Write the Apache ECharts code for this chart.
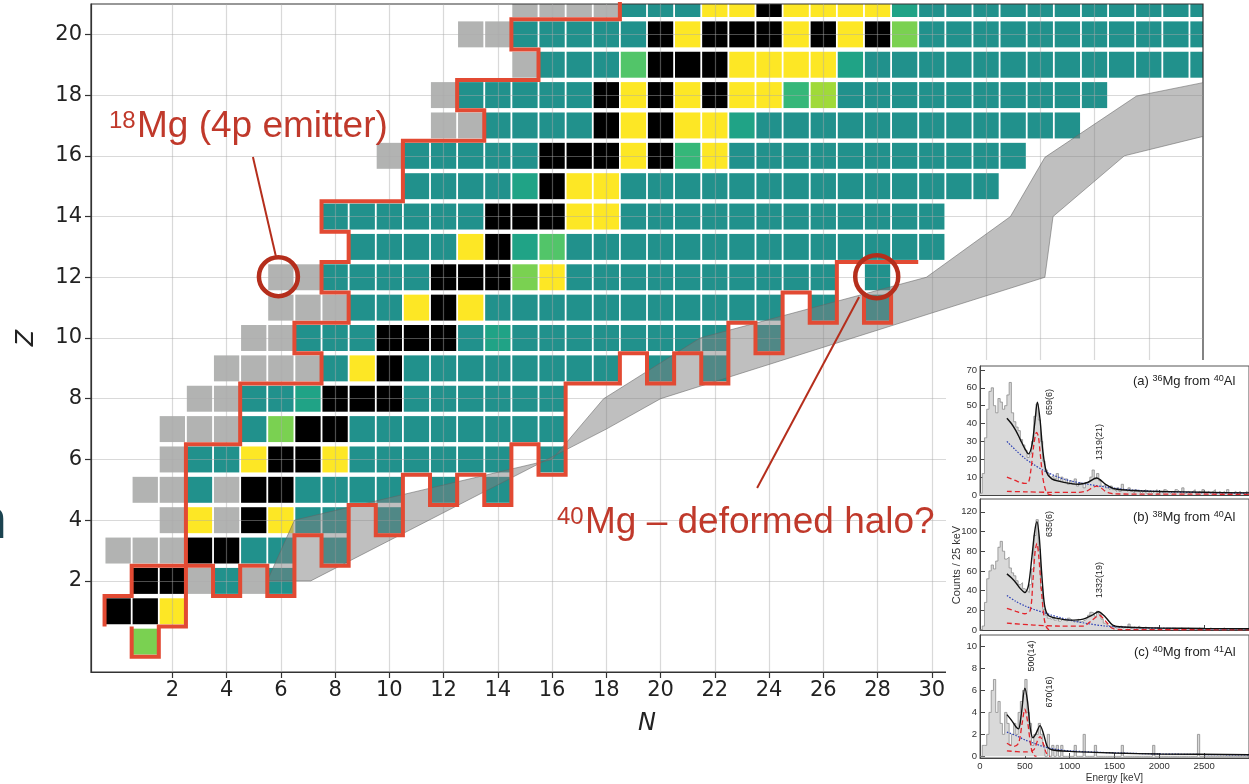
<!DOCTYPE html>
<html><head><meta charset="utf-8">
<script src="https://cdn.jsdelivr.net/npm/echarts@6/dist/echarts.min.js"></script>
<style>html,body{margin:0;padding:0;background:#fff}#c{width:1249px;height:784px}</style>
</head><body><div id="c"></div><script>
// ---------------- main chart data ----------------
const xTickValues = [2,4,6,8,10,12,14,16,18,20,22,24,26,28,30,32,34,36,38];
const xLabelValues = [2,4,6,8,10,12,14,16,18,20,22,24,26,28,30];
const yTickValues = [2,4,6,8,10,12,14,16,18,20];

// rows: [Z, first N, codes]; '.' = no nucleus
const chartRows = [
  [0, 1, 'l'],
  [1, 0, 'kky'],
  [2, 1, 'kkgtgt'],
  [3, 0, 'gggkktt.t'],
  [4, 2, 'gygkytt.t'],
  [5, 1, 'ggtgkktttt.t.t'],
  [6, 2, 'gttykkytttttt.t'],
  [7, 2, 'gggtlkktttttttt'],
  [8, 3, 'ggttakkktttttt'],
  [9, 4, 'ggggtyktttttttt.t.t'],
  [10, 5, 'ggtttkkktatttttttt.t'],
  [11, 6, 'gggttykyttttttttttt.t.t'],
  [12, 6, 'ggttttkkklytttttttttt.t'],
  [13, 9, 'ttttykamtttttttttttttt'],
  [14, 8, 'ttttttkkkyytttttttttttt'],
  [15, 11, 'ttttakyytttttttttttttt'],
  [16, 10, 'gtttttkkkyksyttttttttttt'],
  [17, 12, 'ggttttkykyyatttttttttttt'],
  [18, 12, 'gtttttkykykyysetttttttttt'],
  [19, 15, 'gtttmkkkyyyyatttttttttttttt'],
  [20, 13, 'ggtttttkykkkykykltttttttttttt'],
  [21, 15, 'ggggtttyykyyyyattttttttttt']
];
const cellColors = {g:'#b2b3b2', t:'#21918c', k:'#000000', y:'#fde725', a:'#20a386',
                    s:'#35b779', m:'#52c569', l:'#7ad151', e:'#a0da39'};

const dripLineProton = [[18.5,21.5],[18.5,20.5],[14.5,20.5],[14.5,19.5],[15.5,19.5],[15.5,18.5],
  [12.5,18.5],[12.5,17.5],[13.5,17.5],[13.5,16.5],[10.5,16.5],[10.5,14.5],[7.5,14.5],[7.5,13.5],
  [8.5,13.5],[8.5,12.5],[7.5,12.5],[7.5,11.5],[8.5,11.5],[8.5,10.5],[6.5,10.5],[6.5,9.5],[7.5,9.5],
  [7.5,8.5],[4.5,8.5],[4.5,6.5],[2.5,6.5],[2.5,0.5],[1.5,0.5],[1.5,-0.5],[0.5,-0.5],[0.5,0.5]];
const dripLineNeutron = [[-0.5,0.5],[-0.5,1.5],[0.5,1.5],[0.5,2.5],[3.5,2.5],[3.5,1.5],[4.5,1.5],
  [4.5,2.5],[5.5,2.5],[5.5,1.5],[6.5,1.5],[6.5,3.5],[7.5,3.5],[7.5,2.5],[8.5,2.5],[8.5,4.5],
  [9.5,4.5],[9.5,3.5],[10.5,3.5],[10.5,5.5],[11.5,5.5],[11.5,4.5],[12.5,4.5],[12.5,5.5],[13.5,5.5],
  [13.5,4.5],[14.5,4.5],[14.5,6.5],[15.5,6.5],[15.5,5.5],[16.5,5.5],[16.5,8.5],[18.5,8.5],
  [18.5,9.5],[19.5,9.5],[19.5,8.5],[20.5,8.5],[20.5,9.5],[21.5,9.5],[21.5,8.5],[22.5,8.5],
  [22.5,10.5],[23.5,10.5],[23.5,9.5],[24.5,9.5],[24.5,11.5],[25.5,11.5],[25.5,10.5],[26.5,10.5],
  [26.5,12.5],[29.5,12.5]];
const dripLineNa39 = [[27.5,11.5],[27.5,10.5],[28.5,10.5],[28.5,11.5]];

const bandUpper = [[5.5,2.0],[6.5,4.0],[16.0,6.0],[17.9,8.0],[21.46,10.0],[29.8,12.0],[32.9,14.0],
  [34.17,15.95],[37.55,17.97],[40.5,18.5]];
const bandLower = [[40.5,16.75],[37.1,16.0],[34.47,14.0],[34.17,12.0],[20.0,8.0],[18.0,7.0],[7.1,2.0]];

const circleMg18 = [[5.91,12.02]];
const circleMg40 = [[27.97,12.02]];
const pointerMg18 = [[4.97,15.96],[5.84,12.6]];
const pointerMg40 = [[27.32,11.35],[23.56,5.06]];

// ---------------- inset data (25 keV bins) ----------------
const binWidth = 25;
const histA = [1,12,32,48, 58,60,50,46, 54,52,48,50, 56,63,46,41, 38,36,31,28, 25,21,23,30,
  44,51,42,30, 19,14,12,10, 11,9,12,8, 10,7,9,6, 8,6,9,5, 7,6,4,7, 8,10,14,9, 12,8,5,6,
  4,3,5,3, 2,4,2,6, 3,2,4,2, 1,3,2,1, 2,3,1,2, 1,2,3,1, 2,1,3,2, 1,2,1,3, 2,1,4,1, 2,1,2,3,
  1,2,1,3, 1,2,1,2, 3,1,2,1, 2,1,3,1, 1,2,1,2, 1,1,2,1];
const histB = [0,4,28,52, 60,66,62,70, 84,90,80,72, 74,63,58,55, 50,46,48,42, 40,38,46,62,
  96,112,82,42, 21,15,12,11, 13,10,12,9, 11,10,9,12, 10,8,9,11, 8,9,10,12, 15,18,17,14,
  19,16,11,7, 5,4,4,3, 2,3,4,2, 3,2,6,2, 3,2,4,2, 2,3,2,1, 2,1,2,1, 1,2,1,2, 1,1,2,1,
  1,2,1,1, 2,1,1,1, 1,2,1,1, 1,1,2,1, 1,1,1,1, 2,1,1,1, 1,1,1,1, 1,1,1,1];
const histC = [0,1,1,2, 4,6,7,4, 5,3,2,4, 3,1,2,3, 2,4,5,6, 7,4,3,1, 2,2,3,2, 1,0,2,0,
  1,0,1,0, 1,0,0,0, 0,0,1,0, 0,0,2,0, 0,0,0,1, 0,0,0,0, 0,0,0,0, 0,0,0,1, 0,0,0,0, 0,0,0,0,
  0,0,0,0, 0,1,0,0, 0,0,0,0, 0,0,0,0, 0,0,0,0, 0,0,0,0, 0,2,0,0, 0,0,0,0, 0,0,0,0, 0,0,0,0,
  0,0,0,0, 0,0,0,0];

const fitA = [[300,43],[350,40],[400,36],[450,31],[500,26],[540,23],[580,28],[610,40],[640,52],
  [670,42],[700,25],[740,13],[800,9],[900,7.5],[1000,6.5],[1100,6],[1200,7],[1300,9.5],[1400,6],
  [1500,3.5],[1700,2.5],[2000,2],[2500,1.5],[3000,1.2]];
const bgA = [[300,30],[400,25],[500,20.5],[600,17],[700,14],[800,11.5],[900,9.5],[1000,8],
  [1200,6],[1400,4.5],[1600,3.2],[1800,2.5],[2000,2],[2500,1.3],[3000,1]];
const peakA1 = [[300,10],[350,9],[400,8],[450,7],[500,6.5],[540,7],[570,15],[600,28],[630,35],
  [650,33],[670,24],[700,10],[730,3],[760,0.5],[800,0]];
const peakA2 = [[300,2],[500,1.8],[800,1.5],[1100,1.5],[1200,2.5],[1250,4],[1300,5],[1350,4],
  [1400,2],[1450,1],[1500,0.6],[2000,0.5],[3000,0.4]];

const fitB = [[300,57],[350,53],[400,48],[450,42],[500,38],[540,45],[580,75],[610,100],[635,110],
  [660,95],[690,55],[720,25],[760,15],[850,12],[1000,10],[1150,11],[1250,15],[1320,18.5],
  [1400,13],[1480,5],[1600,3],[2000,2],[2500,1.5],[3000,1.2]];
const bgB = [[300,35],[400,29],[500,24.5],[600,21],[700,18],[800,15],[900,12.5],[1000,10],
  [1200,6.5],[1400,4],[1600,2.8],[2000,1.8],[2500,1.2],[3000,1]];
const peakB1 = [[300,22],[400,19],[500,16.5],[560,20],[590,50],[615,80],[635,88],[655,75],
  [685,40],[715,12],[740,3],[770,0]];
const peakB2 = [[300,7],[600,5],[900,4],[1150,4],[1250,10],[1330,15],[1400,9],[1470,2],
  [1550,0.5],[2000,0.3],[3000,0.2]];

const fitC = [[300,3.8],[350,3.3],[400,2.7],[430,2.5],[460,3.8],[500,6.2],[530,5],[560,2.6],
  [590,1.7],[620,2],[670,2.8],[710,2],[750,0.9],[800,0.6],[1000,0.45],[1500,0.3],[2000,0.22],
  [3000,0.15]];
const bgC = [[300,2.2],[400,1.9],[500,1.5],[600,1.2],[700,0.9],[800,0.7],[1000,0.5],[1500,0.32],
  [2000,0.22],[3000,0.12]];
const peakC1 = [[300,1.2],[380,0.9],[430,1.2],[470,3],[500,4.3],[530,3.2],[570,0.8],[600,0.1],[630,0]];
const peakC2 = [[300,0.5],[500,0.4],[600,0.6],[640,1.4],[670,1.8],[700,1.3],[740,0.3],[780,0]];

const insetXLabels = [0,500,1000,1500,2000,2500];
const insetYLabelsA = [0,10,20,30,40,50,60,70];
const insetYLabelsB = [0,20,40,60,80,100,120];
const insetYLabelsC = [0,2,4,6,8,10];

// ---------------- build ----------------
const cells = [];
chartRows.forEach(([z, n0, codes]) => {
  for (let i = 0; i < codes.length; i++) {
    if (codes[i] !== '.') cells.push([n0 + i, z, codes[i]]);
  }
});
const histData = h => {
  const d = h.map((v, i) => [i * binWidth, v]);
  d.push([h.length * binWidth, h[h.length - 1]]);
  return d;
};

const RED = '#e24a33';
const ANN = '#b52e1c';
const TXT = '#c0392b';
const mainFont = 'DejaVu Sans';
const insetFont = 'Liberation Sans';

const chart = echarts.init(document.getElementById('c'), null, {renderer: 'canvas'});

function insetX(idx, showLabels) {
  return {
    gridIndex: idx, type: 'value', min: 0, max: 3000, z: 21,
    axisLine: {show: true, onZero: false, lineStyle: {color: '#444', width: 1}},
    axisTick: {show: true, inside: true, length: 5, customValues: insetXLabels, lineStyle: {color: '#444'}},
    axisLabel: {show: showLabels, customValues: insetXLabels, fontSize: 9.5, color: '#333', margin: 3,
      fontFamily: insetFont, formatter: v => String(v)},
    splitLine: {show: false},
    name: showLabels ? 'Energy [keV]' : '', nameLocation: 'middle', nameGap: 15,
    nameTextStyle: {fontSize: 10, color: '#333', fontFamily: insetFont}
  };
}
function insetY(idx, min, max, labels) {
  return {
    gridIndex: idx, type: 'value', min: min, max: max, z: 21,
    axisLine: {show: true, onZero: false, lineStyle: {color: '#444', width: 1}},
    axisTick: {show: true, inside: true, length: 5, customValues: labels, lineStyle: {color: '#444'}},
    axisLabel: {customValues: labels, fontSize: 9.5, color: '#333', margin: 3, fontFamily: insetFont,
      formatter: v => String(v)},
    splitLine: {show: false}
  };
}
function insetSeries(idx, hist, fit, bg, p1, p2) {
  const common = {xAxisIndex: idx, yAxisIndex: idx, z: 22, showSymbol: false, symbol: 'none', silent: true, animation: false};
  return [
    Object.assign({type: 'line', step: 'end', data: histData(hist),
      lineStyle: {color: '#8c8c8c', width: 0.8}, areaStyle: {color: '#d9d9d9', opacity: 1}}, common),
    Object.assign({type: 'line', data: bg, smooth: 0.3,
      lineStyle: {color: '#2b3fb5', width: 1.2, type: [1.5, 1.5]}}, common),
    Object.assign({type: 'line', data: p1, smooth: 0.3,
      lineStyle: {color: '#e3242b', width: 1.3, type: [5, 3]}}, common),
    Object.assign({type: 'line', data: p2, smooth: 0.3,
      lineStyle: {color: '#e3242b', width: 1.3, type: [5, 3]}}, common),
    Object.assign({type: 'line', data: fit, smooth: 0.3,
      lineStyle: {color: '#111', width: 1.4}}, common)
  ];
}

const gridStyle = {show: true, borderColor: '#555', borderWidth: 1, backgroundColor: '#fff', z: 21};

const option = {
  animation: false,
  backgroundColor: '#fff',
  grid: [
    {left: 91, top: 4, width: 1112, height: 668, show: true, borderColor: '#333', borderWidth: 1.2, z: 3},
    Object.assign({left: 980, top: 366, width: 274, height: 129}, gridStyle),
    Object.assign({left: 980, top: 499, width: 274, height: 131}, gridStyle),
    Object.assign({left: 980, top: 635, width: 274, height: 125}, gridStyle)
  ],
  xAxis: [
    {
      gridIndex: 0, type: 'value', min: -1, max: 40, z: 3,
      axisLine: {show: true, onZero: false, lineStyle: {color: '#333', width: 1.2}},
      axisTick: {show: true, length: 6, customValues: xTickValues, lineStyle: {color: '#333', width: 1.2}},
      axisLabel: {customValues: xLabelValues, fontSize: 21, color: '#222', margin: 8, fontFamily: mainFont},
      splitLine: {show: true, lineStyle: {color: 'rgba(170,170,170,0.45)', width: 1.2}},
      name: 'N', nameLocation: 'middle', nameGap: 40,
      nameTextStyle: {fontSize: 24, fontStyle: 'italic', color: '#222', fontFamily: mainFont}
    },
    insetX(1, false), insetX(2, false), insetX(3, true)
  ],
  yAxis: [
    {
      gridIndex: 0, type: 'value', min: -1, max: 21, z: 3,
      axisLine: {show: true, onZero: false, lineStyle: {color: '#333', width: 1.2}},
      axisTick: {show: true, length: 6, customValues: yTickValues, lineStyle: {color: '#333', width: 1.2}},
      axisLabel: {customValues: yTickValues, fontSize: 21, color: '#222', margin: 9, fontFamily: mainFont},
      splitLine: {show: true, lineStyle: {color: 'rgba(170,170,170,0.45)', width: 1.2}},
      name: 'Z', nameLocation: 'middle', nameGap: 52, nameRotate: 90,
      nameTextStyle: {fontSize: 24, fontStyle: 'italic', color: '#222', fontFamily: mainFont}
    },
    insetY(1, 0, 72.2, insetYLabelsA), insetY(2, 0, 133, insetYLabelsB), insetY(3, -0.15, 11.05, insetYLabelsC)
  ],
  series: [
    {
      type: 'custom', xAxisIndex: 0, yAxisIndex: 0, z: 2, clip: true, silent: true,
      data: cells.map(c => [c[0], c[1]]),
      renderItem: (params, api) => {
        const p = api.coord([api.value(0), api.value(1)]);
        const s = api.size([1, 1]);
        const w = s[0] - 1.8, h = s[1] - 4.4;
        return {type: 'rect', shape: {x: p[0] - w / 2, y: p[1] - h / 2, width: w, height: h},
          style: {fill: cellColors[cells[params.dataIndex][2]]}};
      }
    },
    {
      type: 'custom', xAxisIndex: 0, yAxisIndex: 0, z: 4, clip: true, silent: true,
      data: [[0, 0]],
      renderItem: (params, api) => ({
        type: 'polygon',
        shape: {points: bandUpper.concat(bandLower).map(p => api.coord(p))},
        style: {fill: 'rgba(128,128,128,0.5)', stroke: 'rgba(100,100,100,0.55)', lineWidth: 1}
      })
    },
    {type: 'line', xAxisIndex: 0, yAxisIndex: 0, z: 5, data: dripLineProton, showSymbol: false, symbol: 'none',
      lineStyle: {color: RED, width: 4, join: 'miter'}, silent: true},
    {type: 'line', xAxisIndex: 0, yAxisIndex: 0, z: 5, data: dripLineNeutron, showSymbol: false, symbol: 'none',
      lineStyle: {color: RED, width: 4, join: 'miter'}, silent: true},
    {type: 'line', xAxisIndex: 0, yAxisIndex: 0, z: 5, data: dripLineNa39, showSymbol: false, symbol: 'none',
      lineStyle: {color: RED, width: 4, join: 'miter'}, silent: true},
    {type: 'line', xAxisIndex: 0, yAxisIndex: 0, z: 6, data: pointerMg18, showSymbol: false, symbol: 'none',
      lineStyle: {color: ANN, width: 2}, silent: true},
    {type: 'line', xAxisIndex: 0, yAxisIndex: 0, z: 6, data: pointerMg40, showSymbol: false, symbol: 'none',
      lineStyle: {color: ANN, width: 2}, silent: true},
    {type: 'scatter', xAxisIndex: 0, yAxisIndex: 0, z: 6, data: circleMg18, symbolSize: 39,
      itemStyle: {color: 'rgba(0,0,0,0)', borderColor: ANN, borderWidth: 4.5, opacity: 1}, silent: true},
    {type: 'scatter', xAxisIndex: 0, yAxisIndex: 0, z: 6, data: circleMg40, symbolSize: 43,
      itemStyle: {color: 'rgba(0,0,0,0)', borderColor: ANN, borderWidth: 4.5, opacity: 1}, silent: true}
  ].concat(
    insetSeries(1, histA, fitA, bgA, peakA1, peakA2),
    insetSeries(2, histB, fitB, bgB, peakB1, peakB2),
    insetSeries(3, histC, fitC, bgC, peakC1, peakC2)
  ),
  graphic: [
    {type: 'rect', z: 20, silent: true, shape: {x: 946, y: 360, width: 310, height: 430}, style: {fill: '#fff'}},
    {type: 'text', z: 30, x: 109, y: 121, style: {text: '18', fontSize: 24, fill: TXT, fontFamily: 'Liberation Sans', verticalAlign: 'middle'}},
    {type: 'text', z: 30, x: 137, y: 127, style: {text: 'Mg (4p emitter)', fontSize: 37, fill: TXT, fontFamily: 'Liberation Sans', verticalAlign: 'middle'}},
    {type: 'text', z: 30, x: 557, y: 517, style: {text: '40', fontSize: 24, fill: TXT, fontFamily: 'Liberation Sans', verticalAlign: 'middle'}},
    {type: 'text', z: 30, x: 585, y: 523, style: {text: 'Mg \u2013 deformed halo?', fontSize: 37, fill: TXT, fontFamily: 'Liberation Sans', verticalAlign: 'middle'}},
    {type: 'text', z: 30, x: 7, y: 523, style: {text: 'n', fontSize: 56, fill: '#1b4350', fontFamily: 'Liberation Sans', align: 'right', verticalAlign: 'middle'}},
    {type: 'text', z: 30, x: 957, y: 565, rotation: Math.PI / 2, style: {text: 'Counts / 25 keV', fontSize: 11, fill: '#333', fontFamily: insetFont, align: 'center', verticalAlign: 'middle'}},
    {type: 'text', z: 30, x: 1133, y: 381, style: {text: '(a) {s|36}Mg from {s|40}Al', fontSize: 13, fill: '#222', fontFamily: insetFont, verticalAlign: 'middle', rich: {s: {fontSize: 9, verticalAlign: 'top', fill: '#222', fontFamily: insetFont}}}},
    {type: 'text', z: 30, x: 1133, y: 517, style: {text: '(b) {s|38}Mg from {s|40}Al', fontSize: 13, fill: '#222', fontFamily: insetFont, verticalAlign: 'middle', rich: {s: {fontSize: 9, verticalAlign: 'top', fill: '#222', fontFamily: insetFont}}}},
    {type: 'text', z: 30, x: 1134, y: 652, style: {text: '(c) {s|40}Mg from {s|41}Al', fontSize: 13, fill: '#222', fontFamily: insetFont, verticalAlign: 'middle', rich: {s: {fontSize: 9, verticalAlign: 'top', fill: '#222', fontFamily: insetFont}}}},
    {type: 'text', z: 30, x: 1050, y: 402, rotation: Math.PI / 2, style: {text: '659(6)', fontSize: 9, fill: '#222', fontFamily: insetFont, align: 'center', verticalAlign: 'middle'}},
    {type: 'text', z: 30, x: 1100, y: 442, rotation: Math.PI / 2, style: {text: '1319(21)', fontSize: 9, fill: '#222', fontFamily: insetFont, align: 'center', verticalAlign: 'middle'}},
    {type: 'text', z: 30, x: 1050, y: 524, rotation: Math.PI / 2, style: {text: '635(6)', fontSize: 9, fill: '#222', fontFamily: insetFont, align: 'center', verticalAlign: 'middle'}},
    {type: 'text', z: 30, x: 1100, y: 580, rotation: Math.PI / 2, style: {text: '1332(19)', fontSize: 9, fill: '#222', fontFamily: insetFont, align: 'center', verticalAlign: 'middle'}},
    {type: 'text', z: 30, x: 1032, y: 656, rotation: Math.PI / 2, style: {text: '500(14)', fontSize: 9, fill: '#222', fontFamily: insetFont, align: 'center', verticalAlign: 'middle'}},
    {type: 'text', z: 30, x: 1050, y: 692, rotation: Math.PI / 2, style: {text: '670(16)', fontSize: 9, fill: '#222', fontFamily: insetFont, align: 'center', verticalAlign: 'middle'}}
  ]
};
chart.setOption(option);
</script></body></html>
